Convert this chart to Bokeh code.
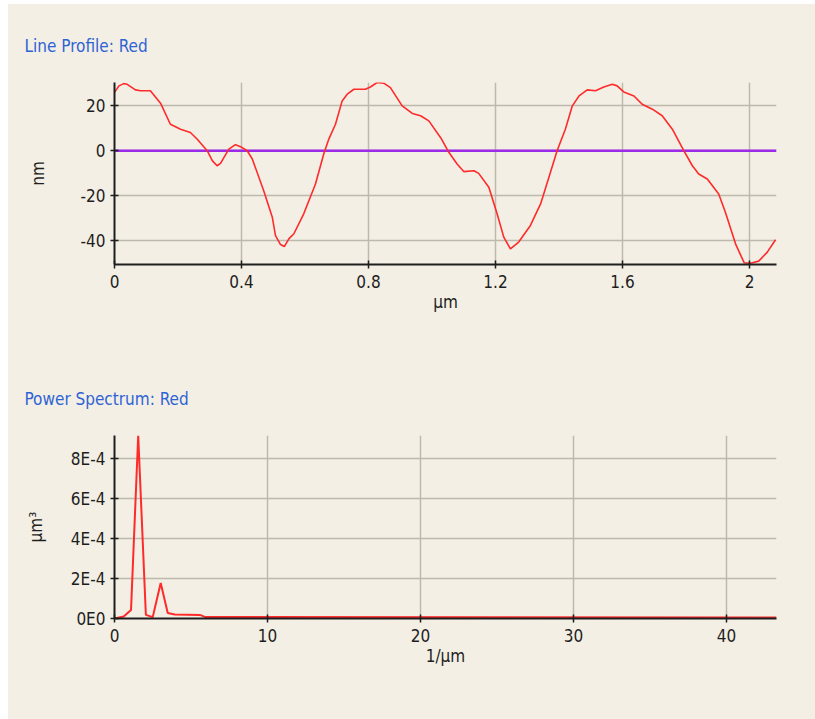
from bokeh.plotting import figure
from bokeh.layouts import column
from bokeh.models import Range1d, FixedTicker
from bokeh.embed import file_html
from bokeh.resources import INLINE

# ---- line profile (µm, nm) ----
profile_x = [0.000, 0.014, 0.029, 0.040, 0.066, 0.082, 0.113, 0.145, 0.176, 0.208,
             0.239, 0.260, 0.292, 0.308, 0.323, 0.334, 0.360, 0.381, 0.397, 0.418,
             0.434, 0.470, 0.497, 0.507, 0.523, 0.535, 0.549, 0.565, 0.596, 0.633,
             0.659, 0.675, 0.696, 0.717, 0.733, 0.754, 0.790, 0.806, 0.827, 0.848,
             0.869, 0.906, 0.938, 0.964, 0.990, 1.030, 1.053, 1.079, 1.100, 1.132,
             1.147, 1.179, 1.205, 1.226, 1.247, 1.273, 1.310, 1.342, 1.368, 1.394,
             1.420, 1.442, 1.463, 1.489, 1.515, 1.541, 1.568, 1.583, 1.604, 1.636,
             1.662, 1.694, 1.725, 1.757, 1.793, 1.820, 1.840, 1.867, 1.903, 1.924,
             1.956, 1.983, 2.003, 2.029, 2.056, 2.082]
profile_y = [26.0, 28.9, 29.9, 29.6, 27.1, 26.7, 26.7, 21.2, 11.8, 9.6,
             8.1, 5.2, 0.0, -4.4, -6.7, -5.6, 0.7, 2.7, 1.8, 0.0,
             -3.7, -17.8, -29.6, -37.8, -41.8, -42.7, -39.3, -37.0, -28.1, -14.8,
             -1.5, 5.2, 11.8, 22.2, 25.2, 27.4, 27.4, 28.4, 30.4, 30.1,
             28.1, 20.0, 16.6, 15.6, 13.3, 5.2, -0.7, -5.9, -9.3, -8.9,
             -10.1, -16.3, -28.1, -38.5, -43.7, -40.7, -33.3, -23.7, -11.9, 0.0,
             9.6, 20.0, 24.4, 27.1, 26.7, 28.4, 29.6, 28.9, 26.2, 24.4,
             20.7, 18.5, 15.6, 9.6, 0.0, -6.7, -10.4, -12.6, -19.3, -27.4,
             -41.5, -49.9, -50.1, -49.2, -45.2, -39.7]
profile_ticks = [0, 0.4, 0.8, 1.2, 1.6, 2]
profile_tick_labels = ["0", "0.4", "0.8", "1.2", "1.6", "2"]
profile_yticks = [-40, -20, 0, 20]
profile_ytick_labels = ["-40", "-20", "0", "20"]
profile_range_x = (0, 2.085)
profile_range_y = (-50.7, 30.4)

# ---- power spectrum (1/µm, µm³) ----
spec_f = [0.00, 0.60, 1.08, 1.55, 2.05, 2.50, 3.02, 3.48, 3.94, 5.58, 5.90, 43.27]
spec_p = [0.0, 1.0e-5, 4.3e-5, 9.15e-4, 1.8e-5, 0.7e-5, 1.77e-4, 2.8e-5, 2.0e-5,
          1.8e-5, 0.8e-5, 0.5e-5]
spec_ticks = [0, 10, 20, 30, 40]
spec_yticks = [0.0, 2e-4, 4e-4, 6e-4, 8e-4]
spec_ytick_labels = ["0E0", "2E-4", "4E-4", "6E-4", "8E-4"]
spec_range_x = (0, 43.27)
spec_range_y = (0, 9.15e-4)

BG = "#F3EFE4"
GRID = "#BDB9AD"
TITLE_BLUE = "#2E63D6"
FONT = "DejaVu Sans Condensed, DejaVu Sans, sans-serif"
FS = "17px"


def panel(title, xr, yr, top, frame_h, bottom):
    p = figure(frame_width=662, frame_height=frame_h,
               min_border_left=106, min_border_right=39,
               min_border_top=top, min_border_bottom=bottom,
               x_range=Range1d(*xr), y_range=Range1d(*yr),
               output_backend="svg", toolbar_location=None,
               background_fill_color=BG, border_fill_color=BG,
               outline_line_color=None)
    p.title.text = title
    p.title.align = "left"
    p.title.offset = -90
    p.title.standoff = 36
    p.title.text_font = FONT
    p.title.text_font_size = FS
    p.title.text_font_style = "normal"
    p.title.text_color = TITLE_BLUE
    for ax in (p.xaxis[0], p.yaxis[0]):
        ax.axis_line_color = "#1E1E1E"
        ax.axis_line_width = 2
        ax.major_tick_line_color = "#1E1E1E"
        ax.major_tick_line_width = 1.5
        ax.major_tick_in = 4
        ax.major_tick_out = 4
        ax.minor_tick_line_color = None
        ax.major_label_text_font = FONT
        ax.major_label_text_font_size = FS
        ax.major_label_text_color = "#1E1E1E"
        ax.axis_label_text_font = FONT
        ax.axis_label_text_font_size = FS
        ax.axis_label_text_font_style = "normal"
        ax.axis_label_text_color = "#1E1E1E"
    p.xaxis[0].major_label_standoff = 6
    p.yaxis[0].major_label_standoff = 5
    p.xaxis[0].axis_label_standoff = 1
    p.yaxis[0].axis_label_standoff = 30
    for g in (p.xgrid[0], p.ygrid[0]):
        g.grid_line_color = GRID
        g.grid_line_width = 1.5
    return p


# Line profile
p1 = panel("Line Profile: Red", profile_range_x, profile_range_y, 78, 182, 96)
p1.title.standoff = 54
p1.xaxis[0].ticker = FixedTicker(ticks=profile_ticks)
p1.xaxis[0].major_label_overrides = {t: s for t, s in zip(profile_ticks, profile_tick_labels)}
p1.yaxis[0].ticker = FixedTicker(ticks=profile_yticks)
p1.yaxis[0].major_label_overrides = {t: s for t, s in zip(profile_yticks, profile_ytick_labels)}
p1.xgrid[0].ticker = FixedTicker(ticks=profile_ticks)
p1.ygrid[0].ticker = FixedTicker(ticks=profile_yticks)
p1.xaxis[0].axis_label = "µm"
p1.yaxis[0].axis_label = "nm"
p1.line(x=[profile_range_x[0], profile_range_x[1]], y=[0, 0],
        line_color="#9B2BE8", line_width=2.5)
p1.line(x=profile_x, y=profile_y, line_color="#FF2A2A", line_width=1.6)

# Power spectrum
p2 = panel("Power Spectrum: Red", spec_range_x, spec_range_y, 75, 183, 101)
p2.title.standoff = 53
p2.xaxis[0].ticker = FixedTicker(ticks=spec_ticks)
p2.yaxis[0].ticker = FixedTicker(ticks=spec_yticks)
p2.yaxis[0].major_label_overrides = {t: s for t, s in zip(spec_yticks, spec_ytick_labels)}
p2.xgrid[0].ticker = FixedTicker(ticks=spec_ticks)
p2.ygrid[0].ticker = FixedTicker(ticks=spec_yticks)
p2.xaxis[0].axis_label = "1/µm"
p2.yaxis[0].axis_label = "µm³"
p2.yaxis[0].axis_label_standoff = 22
p2.line(x=spec_f, y=spec_p, line_color="#FF2A2A", line_width=2)

layout = column(p1, p2, spacing=0, margin=(4, 0, 0, 8), styles={"background": BG})

open("out.html", "w").write(file_html(layout, INLINE))
